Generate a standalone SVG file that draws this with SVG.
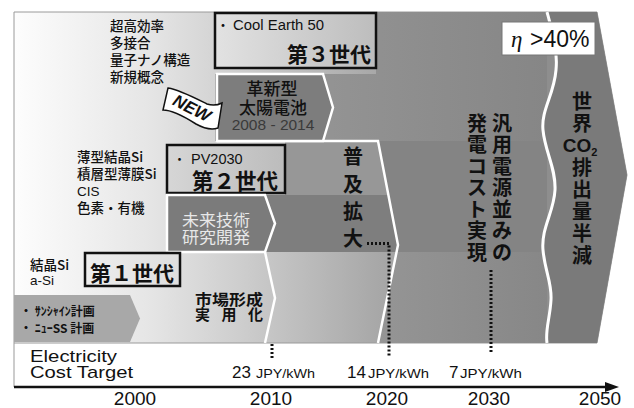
<svg xmlns="http://www.w3.org/2000/svg" width="634" height="408" viewBox="0 0 634 408">
<defs>
<linearGradient id="gBase" gradientUnits="userSpaceOnUse" x1="14" y1="0" x2="547" y2="0">
<stop offset="0" stop-color="#fdfdfd"/>
<stop offset="0.25" stop-color="#e6e6e6"/>
<stop offset="0.45" stop-color="#cacaca"/>
<stop offset="0.68" stop-color="#a8a8a8"/>
<stop offset="1" stop-color="#8e8e8e"/>
</linearGradient>
<linearGradient id="gTop" gradientUnits="userSpaceOnUse" x1="215" y1="0" x2="547" y2="0">
<stop offset="0" stop-color="#9a9a9a"/>
<stop offset="1" stop-color="#868686"/>
</linearGradient>
<linearGradient id="gR1" gradientUnits="userSpaceOnUse" x1="378" y1="0" x2="547" y2="0">
<stop offset="0" stop-color="#959595"/>
<stop offset="1" stop-color="#878787"/>
</linearGradient>
<linearGradient id="gBox3" x1="0" y1="0" x2="1" y2="0">
<stop offset="0" stop-color="#e2e2e2"/>
<stop offset="1" stop-color="#bdbdbd"/>
</linearGradient>
<linearGradient id="gBox2" x1="0" y1="0" x2="1" y2="0">
<stop offset="0" stop-color="#d6d6d6"/>
<stop offset="1" stop-color="#bcbcbc"/>
</linearGradient>
<linearGradient id="gBox1" x1="0" y1="0" x2="1" y2="0">
<stop offset="0" stop-color="#eeeeee"/>
<stop offset="1" stop-color="#dedede"/>
</linearGradient>
<marker id="axisArrow" markerWidth="14" markerHeight="10" refX="2" refY="5" orient="auto" markerUnits="userSpaceOnUse">
<path d="M0,0 L14,5 L0,10 Z" fill="#111"/>
</marker>
<style>
text { font-family: "Liberation Sans", "Noto Sans CJK JP", sans-serif; fill: #111; }
.jp { font-family: "Noto Sans CJK JP", "Liberation Sans", sans-serif; }
.list { font-size: 13.5px; font-weight: 500; }
.gen { font-size: 21px; font-weight: 700; }
.vt { font-size: 20px; font-weight: 700; text-anchor: middle; }
.mid { text-anchor: middle; }
.wl { fill: none; stroke: #fff; stroke-width: 2.5; }
.box { stroke: #111; stroke-width: 2.5; }
.dot { fill: none; stroke: #111; stroke-width: 3; stroke-dasharray: 2 2; }
.yr { font-size: 19px; text-anchor: middle; }
.big { font-size: 17px; }
.unit { font-size: 13px; }
</style>
</defs>

<g id="background">
<path d="M14,12 H597 L627,175 L597,343 H14 Z" fill="url(#gBase)" stroke="#9a9a9a" stroke-width="1"/>
<path d="M215,12 H547 V141 H215 Z" fill="url(#gTop)"/>
<rect x="215" y="68" width="161" height="6" fill="url(#gBase)"/>
<rect x="285" y="141" width="262" height="111" fill="#848484"/>
<polygon points="285,141 378,141 388.4,195 285,195" fill="#979797"/>
<polygon points="265,195 388.4,195 398,245 396.6,252 265,252" fill="#7e7e7e"/>
<polygon points="396.6,252 547,252 547,343 378,343" fill="url(#gR1)"/>
<path d="M547,12 C552,30 558,50 556,70 C554,95 541,110 543,130 C545,152 556,168 555,190 C554,212 541,228 543,250 C545,272 552,282 551,300 C550,318 545,330 547,343 L597,343 L627,175 L597,12 Z" fill="#7a7a7a"/>
<path class="wl" d="M217,141 H378 L398,245 L378,343"/>
<path class="wl" d="M265,252 L275,298 L265,343"/>
<path d="M547,12 C552,30 558,50 556,70 C554,95 541,110 543,130 C545,152 556,168 555,190 C554,212 541,228 543,250 C545,272 552,282 551,300 C550,318 545,330 547,343" fill="none" stroke="#fff" stroke-width="3"/>
<line x1="14" y1="343" x2="14" y2="387" stroke="#999" stroke-width="1"/>
</g>

<g id="node-list3">
<text class="jp list" x="110" y="31">超高効率</text>
<text class="jp list" x="110" y="48">多接合</text>
<text class="jp list" x="110" y="65">量子ナノ構造</text>
<text class="jp list" x="110" y="82">新規概念</text>
</g>

<g id="node-gen3">
<rect class="box" x="215" y="13" width="161" height="55" fill="url(#gBox3)"/>
<text x="216" y="30" font-size="14">・</text>
<text x="233" y="30" font-size="14" textLength="91" lengthAdjust="spacingAndGlyphs">Cool Earth 50</text>
<text class="jp gen" x="287" y="62">第３世代</text>
</g>

<g id="node-kakushin">
<path d="M217,74 H323 L333,107.5 L323,141 H217 Z" fill="#7d7d7d" stroke="#fff" stroke-width="2.5"/>
<text class="jp mid" x="272" y="95" font-size="17" font-weight="500">革新型</text>
<text class="jp mid" x="273" y="114" font-size="17" font-weight="500">太陽電池</text>
<text class="mid" x="273" y="130" font-size="15.5" style="fill:#3a3a3a">2008 - 2014</text>
</g>

<g id="node-new">
<path d="M168,88 C180,90 195,98 207,104 C213,106 218,105 222,103 L218,128 C212,130 205,129 196,124 C185,117 173,110 163,110 Z" fill="#fff" stroke="#111" stroke-width="1.5"/>
<text x="192" y="114" font-size="17" font-weight="700" font-style="italic" text-anchor="middle" transform="rotate(27 192 108)">NEW</text>
</g>

<g id="node-eta">
<rect x="502" y="22" width="93" height="33" fill="#fff" stroke="#777" stroke-width="1"/>
<text x="511" y="47" font-size="23"><tspan font-family="Liberation Serif, serif" font-style="italic">η</tspan><tspan x="530">&gt;40%</tspan></text>
</g>

<g id="node-list2">
<text class="jp list" x="77" y="162">薄型結晶Si</text>
<text class="jp list" x="77" y="179">積層型薄膜Si</text>
<text class="list" x="77" y="196">CIS</text>
<text class="jp list" x="77" y="213">色素・有機</text>
</g>

<g id="node-gen2">
<rect class="box" x="167" y="145" width="118" height="48" fill="url(#gBox2)"/>
<text x="173" y="164" font-size="13">・</text>
<text x="191" y="164" font-size="14.5">PV2030</text>
<text class="jp" x="192" y="189" font-size="21.5" font-weight="700">第２世代</text>
</g>

<g id="node-mirai">
<path d="M167,195 H265 L275,223.5 L265,252 H167 Z" fill="#7b7b7b" stroke="#fff" stroke-width="2.5"/>
<text class="jp mid" x="216" y="226" font-size="16" style="fill:#e8e8e8" textLength="68" lengthAdjust="spacingAndGlyphs">未来技術</text>
<text class="jp mid" x="216" y="243" font-size="16" style="fill:#e8e8e8" textLength="68" lengthAdjust="spacingAndGlyphs">研究開発</text>
</g>

<g id="node-fukyu">
<text class="jp vt"><tspan x="353" y="164">普</tspan><tspan x="353" y="192">及</tspan><tspan x="353" y="219">拡</tspan><tspan x="353" y="246">大</tspan></text>
</g>

<g id="node-list1">
<text class="jp list" x="30" y="270">結晶Si</text>
<text class="list" x="30" y="285">a-Si</text>
</g>

<g id="node-gen1">
<rect class="box" x="85" y="253" width="95" height="33" fill="url(#gBox1)"/>
<text class="jp gen" x="90" y="281">第１世代</text>
</g>

<g id="node-sunshine">
<path d="M14,295 H130 L140,318.5 L130,342 H14 Z" fill="#a8a8a8"/>
<text class="jp" x="20" y="316" font-size="12" font-weight="700">・ ｻﾝｼｬｲﾝ計画</text>
<text class="jp" x="20" y="333" font-size="12" font-weight="700">・ ﾆｭｰSS 計画</text>
</g>

<g id="node-shijo">
<text class="jp" x="195" y="305" font-size="15" font-weight="700" textLength="68" lengthAdjust="spacingAndGlyphs">市場形成</text>
<text class="jp" x="195" y="320" font-size="15" font-weight="700" textLength="68" lengthAdjust="spacing">実 用 化</text>
</g>

<g id="node-hanyo">
<text class="jp vt"><tspan x="502" y="131">汎</tspan><tspan x="502" y="152">用</tspan><tspan x="502" y="174">電</tspan><tspan x="502" y="195">源</tspan><tspan x="502" y="217">並</tspan><tspan x="502" y="238">み</tspan><tspan x="502" y="260">の</tspan></text>
<text class="jp vt"><tspan x="477" y="131">発</tspan><tspan x="477" y="152">電</tspan><tspan x="477" y="174">コ</tspan><tspan x="477" y="195">ス</tspan><tspan x="477" y="217">ト</tspan><tspan x="477" y="238">実</tspan><tspan x="477" y="260">現</tspan></text>
</g>

<g id="node-sekai">
<text class="jp vt"><tspan x="582" y="109">世</tspan><tspan x="582" y="131">界</tspan></text>
<text x="580" y="152" font-size="19" font-weight="700" text-anchor="middle">CO<tspan font-size="11" dy="4">2</tspan></text>
<text class="jp vt"><tspan x="582" y="175">排</tspan><tspan x="582" y="197">出</tspan><tspan x="582" y="219">量</tspan><tspan x="582" y="241">半</tspan><tspan x="582" y="263">減</tspan></text>
</g>

<g id="connectors">
<line class="dot" x1="272" y1="344" x2="272" y2="358"/>
<polyline class="dot" points="367,243.5 389,243.5 389,356"/>
<line class="dot" x1="491" y1="270" x2="491" y2="353"/>
</g>

<g id="axis">
<line x1="14" y1="387" x2="607" y2="387" stroke="#111" stroke-width="2.5" marker-end="url(#axisArrow)"/>
<text x="30" y="362" font-size="17" textLength="87" lengthAdjust="spacingAndGlyphs">Electricity</text>
<text x="30" y="378" font-size="17" textLength="103" lengthAdjust="spacingAndGlyphs">Cost Target</text>
<text x="232" y="378" class="big">23</text>
<text x="256" y="378" class="unit" textLength="59" lengthAdjust="spacingAndGlyphs">JPY/kWh</text>
<text x="347" y="378" class="big">14</text>
<text x="368" y="378" class="unit" textLength="61" lengthAdjust="spacingAndGlyphs">JPY/kWh</text>
<text x="449" y="378" class="big">7</text>
<text x="460" y="378" class="unit" textLength="62" lengthAdjust="spacingAndGlyphs">JPY/kWh</text>
<text class="yr" x="135" y="405">2000</text>
<text class="yr" x="271" y="405">2010</text>
<text class="yr" x="387" y="405">2020</text>
<text class="yr" x="489" y="405">2030</text>
<text class="yr" x="600" y="405">2050</text>
</g>
</svg>
